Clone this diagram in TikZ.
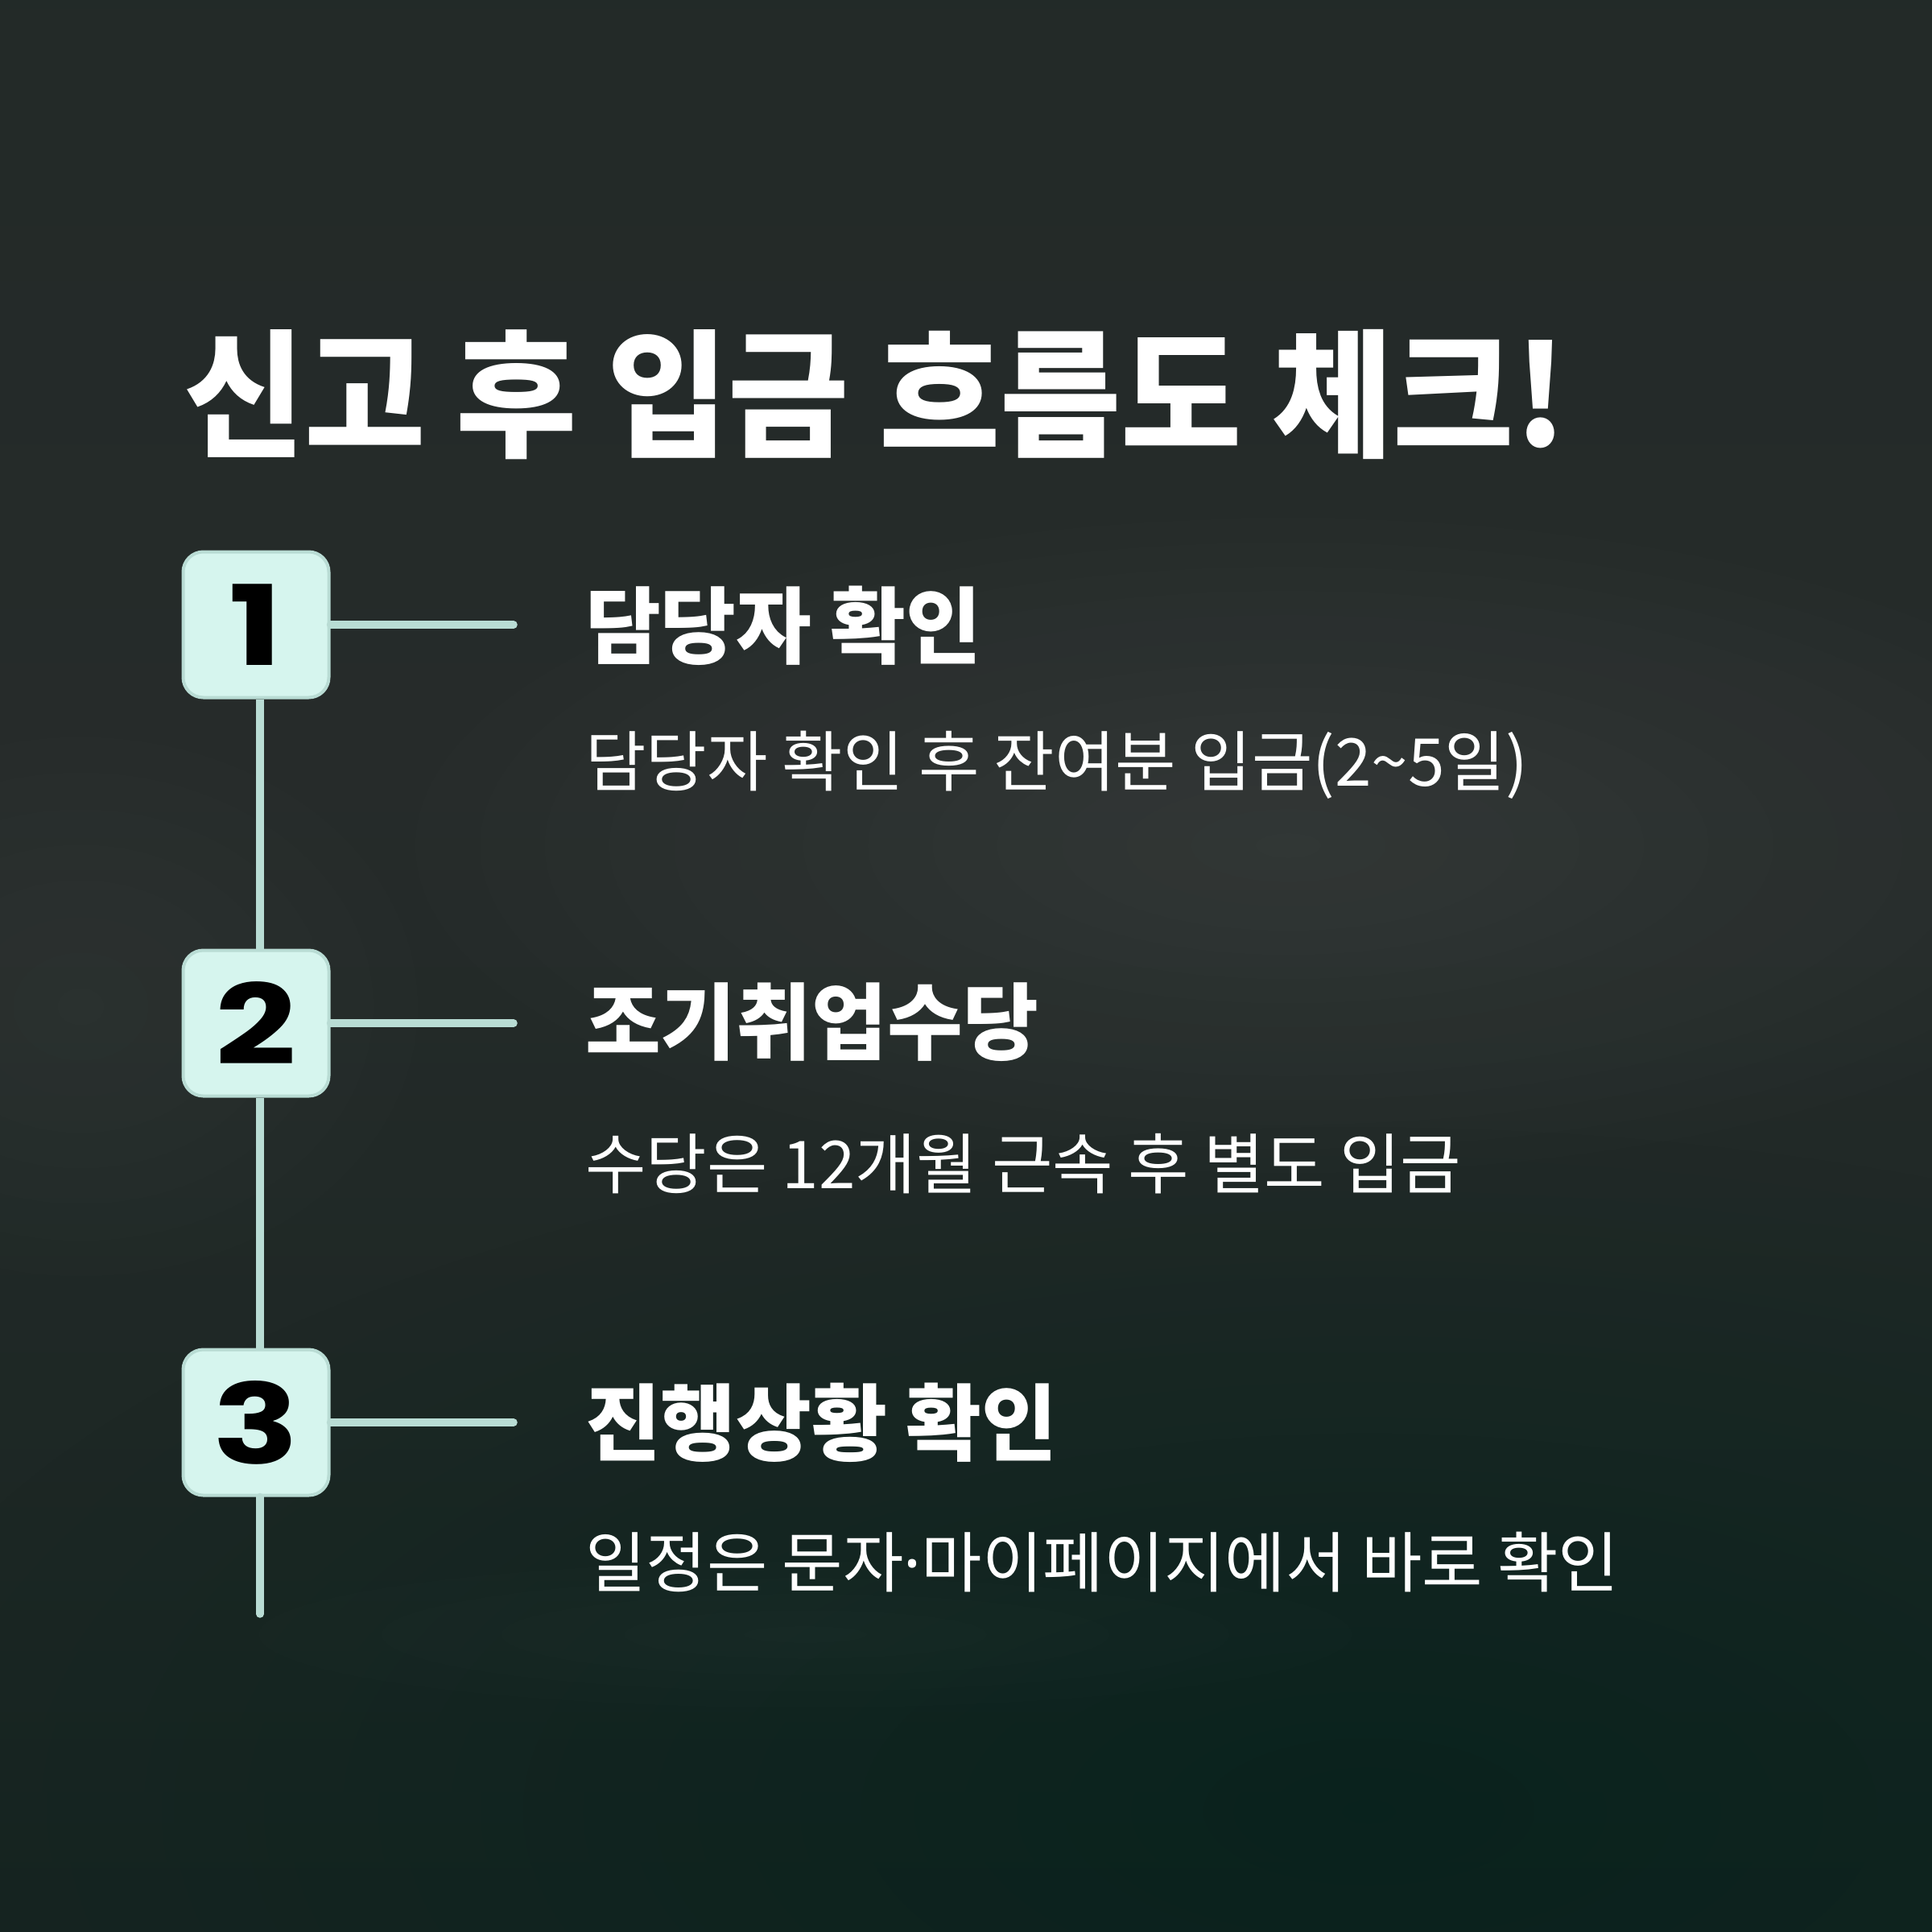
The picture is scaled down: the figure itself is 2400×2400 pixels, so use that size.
\documentclass[tikz,border=0pt]{standalone}
\usepackage{fontspec}
\newfontfamily\titlefont{Noto Sans CJK KR}[FakeStretch=0.95]
\newfontfamily\headfont{Noto Sans CJK KR}[FakeStretch=0.98]
\newfontfamily\bodyfont{Noto Sans CJK KR}
\newfontfamily\dotfont{Noto Sans}
\newfontfamily\numfont{Poppins}[FakeStretch=1.28]
\usetikzlibrary{fadings}
\tikzfading[name=glow, inner color=transparent!0, outer color=transparent!100]
\definecolor{mint}{HTML}{D6F5EE}
\definecolor{mintline}{HTML}{B9DCD4}
\definecolor{sA}{HTML}{0B1C18}
\definecolor{sB}{HTML}{11211D}
\definecolor{sC}{HTML}{1C2724}
\definecolor{sD}{HTML}{262B2A}
\definecolor{sE}{HTML}{232A28}
\definecolor{sF}{HTML}{1E2A27}
\definecolor{teal}{HTML}{05221C}
\pgfdeclareverticalshading{bgsh}{100bp}{color(0bp)=(sA); color(15bp)=(sB); color(35bp)=(sC); color(55bp)=(sD); color(72bp)=(sE); color(100bp)=(sF)}
\tikzset{
  numbox/.style={rounded corners=25, minimum size=181, inner sep=0, fill=mint, draw=mintline, line width=4, text=black, font=\numfont\bfseries\fontsize{138}{138}\selectfont},
  conn/.style={draw=mintline, line width=9.5, line cap=round},
  titletext/.style={inner sep=0, text=white, font=\titlefont\bfseries\fontsize{172}{172}\selectfont},
  headtext/.style={inner sep=0, text=white, font=\headfont\bfseries\fontsize{104}{104}\selectfont},
  subtext/.style={inner sep=0, text=white, font=\bodyfont\fontsize{82}{82}\selectfont}
}
\begin{document}
\begin{tikzpicture}[x=1pt,y=-1pt]
\useasboundingbox (0,0) rectangle (2400,2400);
\shade[shading=bgsh] (0,0) rectangle (2400,2400);
\fill[white, opacity=0.06, path fading=glow] (1600,1050) ellipse (1200 and 450);
\fill[white, opacity=0.035, path fading=glow] (100,1250) ellipse (500 and 400);
\fill[teal, opacity=0.75, path fading=glow] (1700,2250) ellipse (1900 and 850);
\fill[white, opacity=0.025, path fading=glow] (1000,2030) ellipse (900 and 120);
\node[titletext, anchor=west] (title) at (228,490) {신고 후 입금 흐름도 체크!};
\node[numbox] (b1) at (318,776) {1};
\node[numbox] (b2) at (318,1271) {2};
\node[numbox] (b3) at (318,1767) {3};
\coordinate (c1) at (638,776);
\coordinate (c2) at (638,1271);
\coordinate (c3) at (638,1767);
\coordinate (vend) at (323,2005);
\draw[conn] (b1.east) -- (c1);
\draw[conn] (b2.east) -- (c2);
\draw[conn] (b3.east) -- (c3);
\draw[conn, line cap=butt] ([xshift=5]b1.south) -- ([xshift=5]b2.north);
\draw[conn, line cap=butt] ([xshift=5]b2.south) -- ([xshift=5]b3.north);
\draw[conn] ([xshift=5]b3.south) -- (vend);
\node[headtext, anchor=west] (h1) at (727,777) {담당자 확인};
\node[subtext, anchor=west] (s1) at (727,950) {담당자 확인 후 잔여분 입금(2\char"7E 5일)};
\node[headtext, anchor=west] (h2) at (727,1270) {조기취업수당};
\node[subtext, anchor=west] (s2) at (727,1446) {수당은 12개월 근속 후 별도 입금};
\node[headtext, anchor=west] (h3) at (727,1767) {진행상황 확인};
\node[subtext, anchor=west] (s3) at (727,1941) {일정은 문자{\dotfont\char"B7}마이페이지에서 바로 확인};
\end{tikzpicture}
\end{document}
